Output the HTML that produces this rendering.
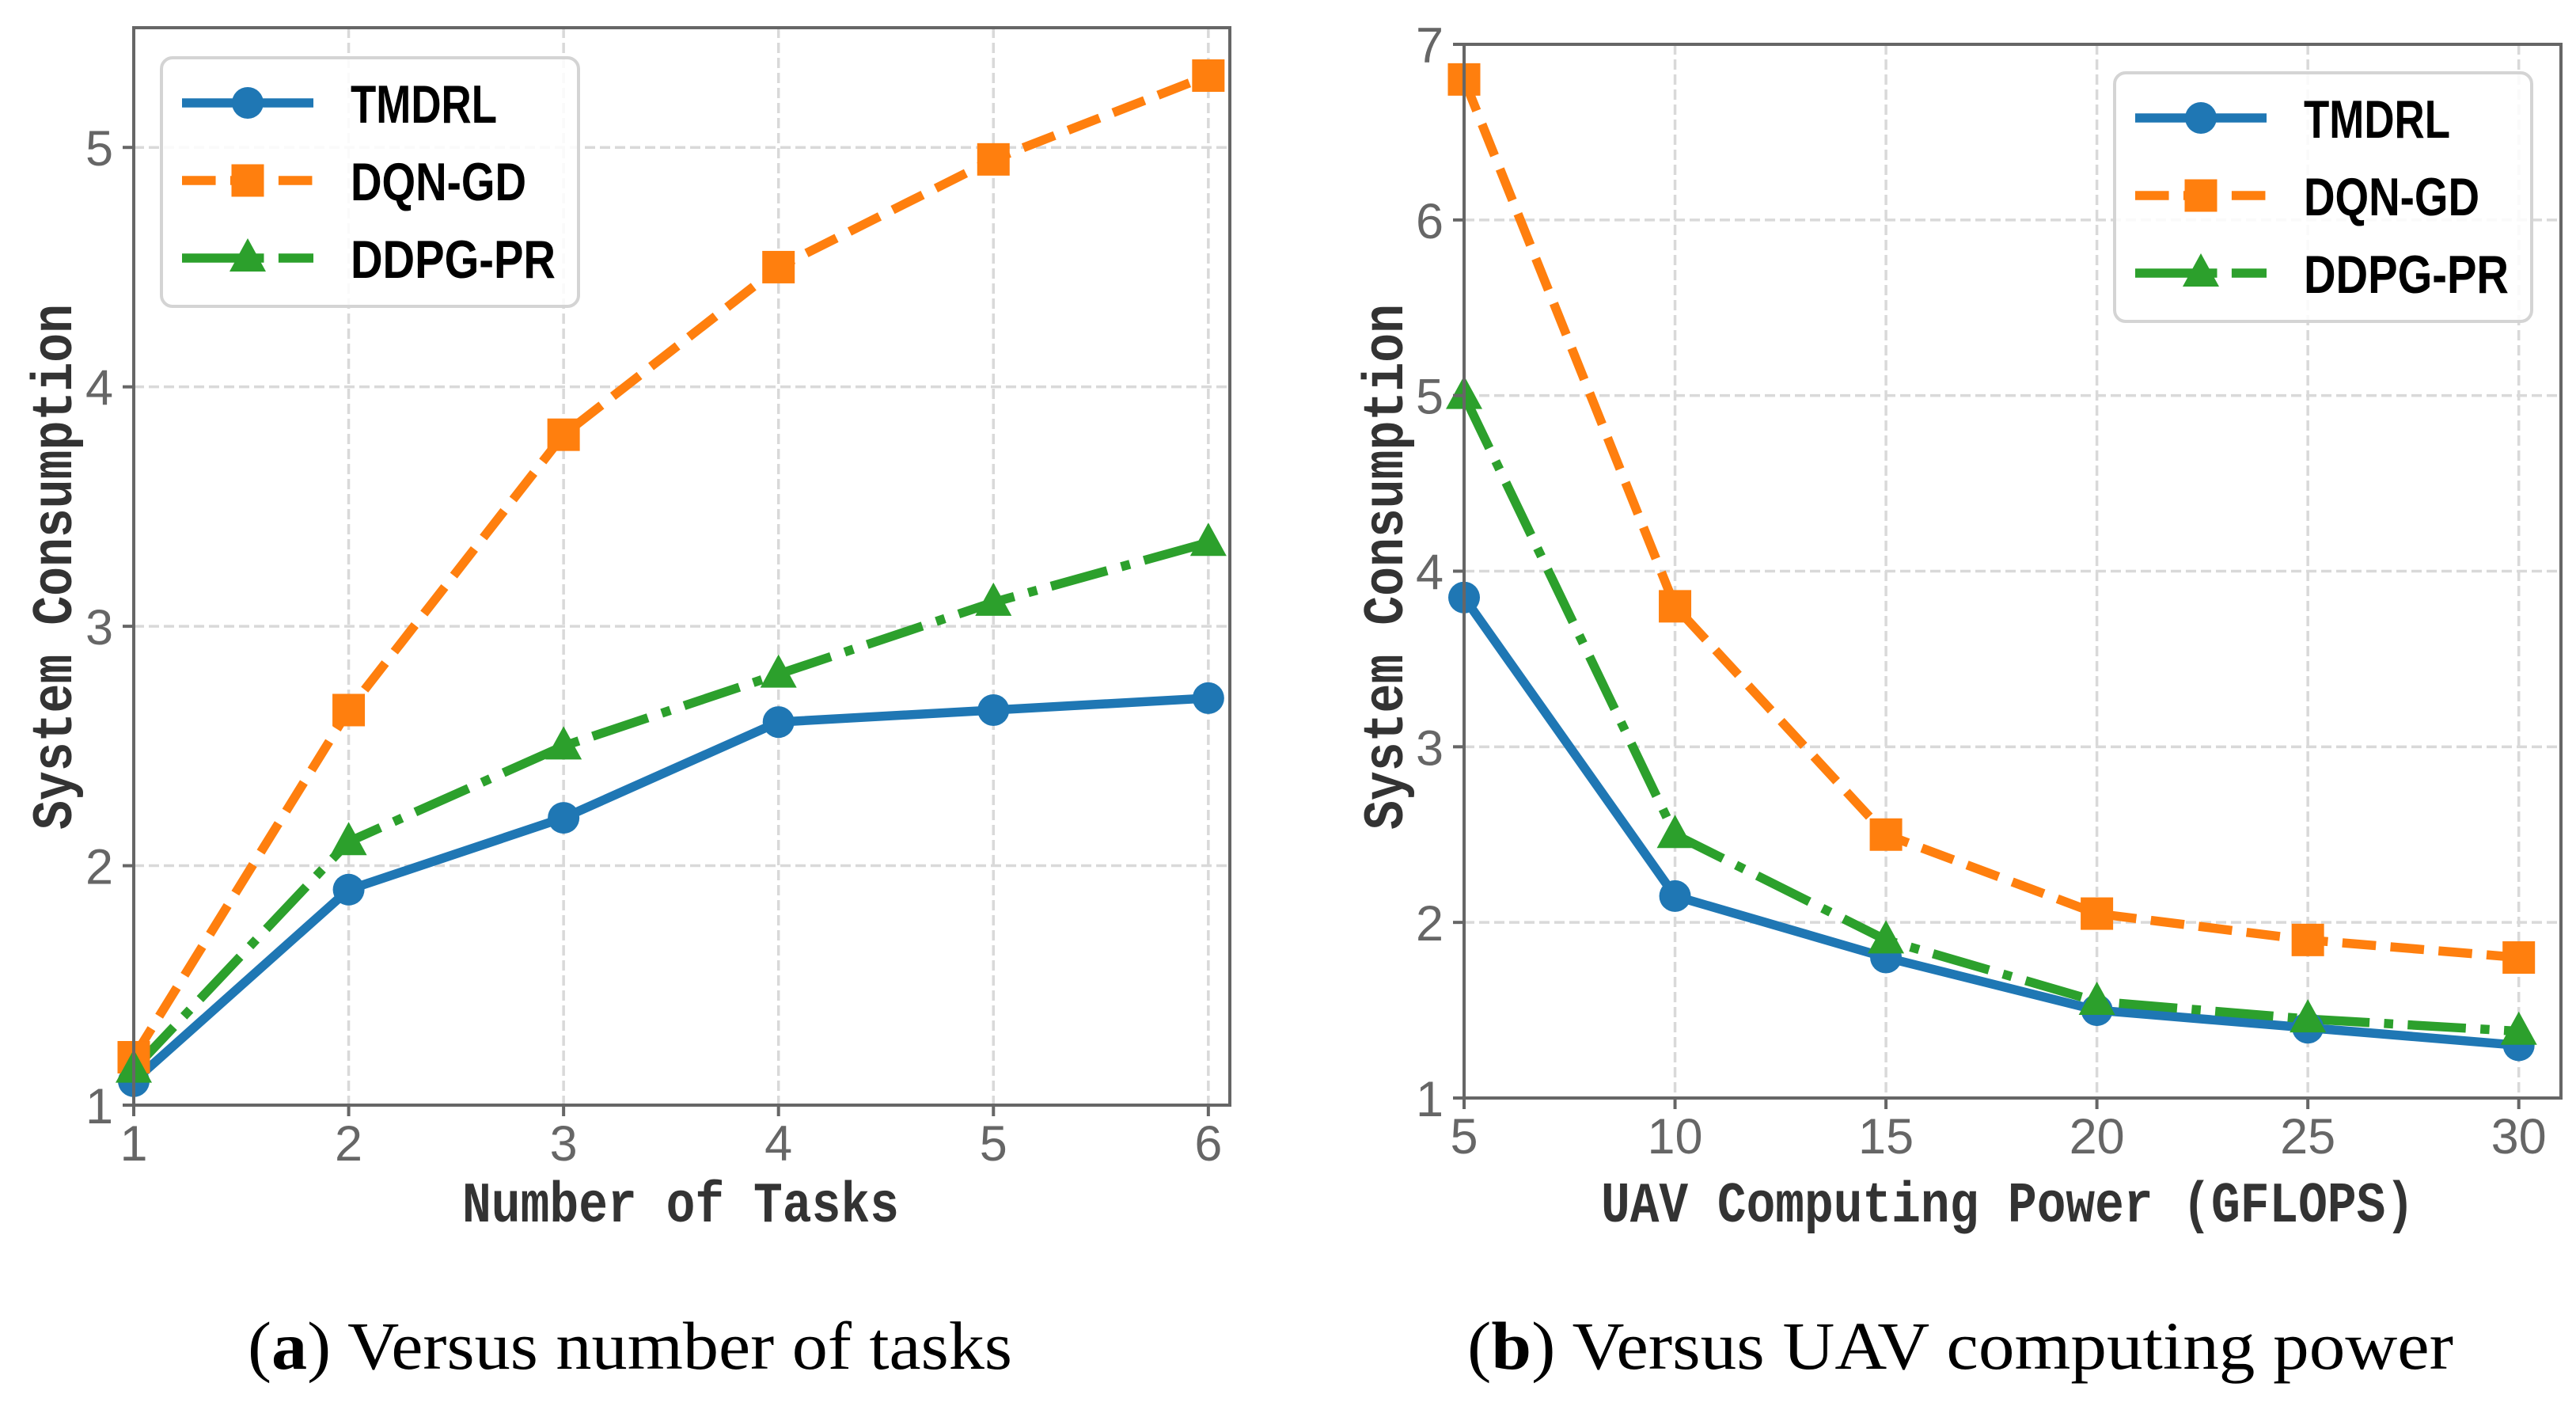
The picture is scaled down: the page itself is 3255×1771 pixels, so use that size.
<!DOCTYPE html>
<html><head><meta charset="utf-8"><style>
html,body{margin:0;padding:0;background:#fff;}
svg{display:block;}
</style></head><body>
<svg id="fig" xmlns="http://www.w3.org/2000/svg" width="3255" height="1771" viewBox="0 0 3255 1771">
<rect x="0" y="0" width="3255" height="1771" fill="#fff"/>
</svg>
<script>
// Panel (a) data
const tasksX = [1, 2, 3, 4, 5, 6];
const tasksTMDRL = [1.1, 1.9, 2.2, 2.6, 2.65, 2.7];
const tasksDQN = [1.2, 2.65, 3.8, 4.5, 4.95, 5.3];
const tasksDDPG = [1.15, 2.1, 2.5, 2.8, 3.1, 3.35];
const tasksXTicks = [1, 2, 3, 4, 5, 6];
const tasksYTicks = [1, 2, 3, 4, 5];
// Panel (b) data
const powerX = [5, 10, 15, 20, 25, 30];
const powerTMDRL = [3.85, 2.15, 1.8, 1.5, 1.4, 1.3];
const powerDQN = [6.8, 3.8, 2.5, 2.05, 1.9, 1.8];
const powerDDPG = [5.0, 2.5, 1.9, 1.55, 1.45, 1.38];
const powerXTicks = [5, 10, 15, 20, 25, 30];
const powerYTicks = [1, 2, 3, 4, 5, 6, 7];
const seriesNames = ["TMDRL", "DQN-GD", "DDPG-PR"];

const NS = "http://www.w3.org/2000/svg";
const svg = document.getElementById("fig");
function mk(tag, attrs, parent) {
  const e = document.createElementNS(NS, tag);
  for (const k in attrs) e.setAttribute(k, attrs[k]);
  (parent || svg).appendChild(e);
  return e;
}
const COLORS = ["#1f77b4", "#ff7f0e", "#2ca02c"];
const LW = 11.5;
const DASH = ["none", (3.7*LW)+" "+(1.6*LW), (6.4*LW)+" "+(1.6*LW)+" "+(1*LW)+" "+(1.6*LW)];

function marker(g, kind, cx, cy, color, name) {
  let m;
  if (kind === 0) m = mk("circle", {cx: cx, cy: cy, r: 20, fill: color}, g);
  else if (kind === 1) m = mk("rect", {x: cx-20.5, y: cy-20.5, width: 41, height: 41, fill: color}, g);
  else m = mk("polygon", {points: (cx)+","+(cy-25)+" "+(cx-23)+","+(cy+17)+" "+(cx+23)+","+(cy+17), fill: color}, g);
  
  
}

function panel(cfg) {
  const g = mk("g", {});
  
  
  const sx = v => cfg.L + (v - cfg.x0) / (cfg.x1 - cfg.x0) * (cfg.R - cfg.L);
  const sy = v => cfg.B - (v - cfg.y0) / (cfg.y1 - cfg.y0) * (cfg.B - cfg.T);
  cfg.xt.forEach(t => {
    const l = mk("line", {x1: sx(t), x2: sx(t), y1: cfg.T, y2: cfg.B, stroke: "#d9d9d9", "stroke-width": 3.5, "stroke-dasharray": "13 6"}, g);
    
    
  });
  cfg.yt.forEach(t => {
    const l = mk("line", {x1: cfg.L, x2: cfg.R, y1: sy(t), y2: sy(t), stroke: "#d9d9d9", "stroke-width": 3.5, "stroke-dasharray": "13 6"}, g);
    
    
  });
  cfg.series.forEach((ys, i) => {
    const sg = mk("g", {}, g);
    
    
    const pts = cfg.xs.map((x, j) => sx(x) + "," + sy(ys[j])).join(" ");
    const pl = mk("polyline", {points: pts, fill: "none", stroke: COLORS[i], "stroke-width": LW, "stroke-dasharray": DASH[i], "stroke-linejoin": "round"}, sg);
    
    
  });
  cfg.series.forEach((ys, i) => {
    cfg.xs.forEach((x, j) => marker(g, i, sx(x), sy(ys[j]), COLORS[i], seriesNames[i].toLowerCase() + '-marker'));
  });
  const fr = mk("rect", {x: cfg.L, y: cfg.T, width: cfg.R - cfg.L, height: cfg.B - cfg.T, fill: "none", stroke: "#666", "stroke-width": 4}, g);
  
  
  cfg.xt.forEach(t => {
    const tk = mk("line", {x1: sx(t), x2: sx(t), y1: cfg.B, y2: cfg.B + 14, stroke: "#666", "stroke-width": 4}, g);
    
    
    const tx = mk("text", {x: sx(t), y: cfg.B + 70, "text-anchor": "middle", "font-family": "Liberation Sans, sans-serif", "font-size": 63, fill: "#666"}, g);
    tx.textContent = t;
    
    
  });
  cfg.yt.forEach(t => {
    const tk = mk("line", {x1: cfg.L - 14, x2: cfg.L, y1: sy(t), y2: sy(t), stroke: "#666", "stroke-width": 4}, g);
    
    
    const tx = mk("text", {x: cfg.L - 26, y: sy(t) + 23, "text-anchor": "end", "font-family": "Liberation Sans, sans-serif", "font-size": 63, fill: "#666"}, g);
    tx.textContent = t;
    
    
  });
  const xl = mk("text", {x: cfg.xlx, y: 1543, "text-anchor": "middle", "font-family": "Liberation Mono, monospace", "font-size": 72, "font-weight": "bold", fill: "#333", textLength: cfg.xlw, lengthAdjust: "spacingAndGlyphs"}, g);
  xl.textContent = cfg.xlabel;
  
  
  const yl = mk("text", {x: 0, y: 0, "text-anchor": "middle", "font-family": "Liberation Mono, monospace", "font-size": 72, "font-weight": "bold", fill: "#333", textLength: 664, lengthAdjust: "spacingAndGlyphs", transform: "translate(" + cfg.ylx + ",716) rotate(-90)"}, g);
  yl.textContent = "System Consumption";
  
  
  const lg = mk("g", {}, g);
  
  
  mk("rect", {x: cfg.lgx, y: cfg.lgy, width: 527, height: 314, rx: 14, fill: "#fff", "fill-opacity": 0.85, stroke: "#d4d4d4", "stroke-width": 4}, lg);
  seriesNames.forEach((n, i) => {
    const ey = cfg.lgy + 57 + i * 98;
    const hx = cfg.lgx + 26;
    const e = mk("g", {}, lg);
    
    
    mk("line", {x1: hx, x2: hx + 166, y1: ey, y2: ey, stroke: COLORS[i], "stroke-width": LW, "stroke-dasharray": DASH[i]}, e);
    marker(e, i, hx + 83, ey, COLORS[i], 'legend-marker');
    const t = mk("text", {x: cfg.lgx + 239, y: ey + 25, "font-family": "Liberation Sans, sans-serif", "font-size": 68, "font-weight": "bold", fill: "#000", textLength: n.length * 37, lengthAdjust: "spacingAndGlyphs"}, e);
    t.textContent = n;
    
    
  });
  const cp = mk("text", {x: cfg.cpx, y: 1729, "font-family": "Liberation Serif, serif", "font-size": 86, fill: "#000", textLength: cfg.cpw, lengthAdjust: "spacingAndGlyphs"}, g);
  
  
  cp.appendChild(document.createTextNode("("));
  const b = mk("tspan", {"font-weight": "bold"}, cp);
  b.textContent = cfg.letter;
  cp.appendChild(document.createTextNode(") " + cfg.caption));
}

panel({id: "tasks", L: 169, R: 1554, T: 35, B: 1396, x0: 1, x1: 6.1, y0: 1, y1: 5.5,
  xs: tasksX, series: [tasksTMDRL, tasksDQN, tasksDDPG], xt: tasksXTicks, yt: tasksYTicks,
  xlabel: "Number of Tasks", xlx: 860, xlw: 552, ylx: 90,
  lgx: 204, lgy: 73, cpx: 313, cpw: 966, letter: "a", caption: "Versus number of tasks"});
panel({id: "power", L: 1850, R: 3236, T: 56, B: 1387, x0: 5, x1: 31, y0: 1, y1: 7,
  xs: powerX, series: [powerTMDRL, powerDQN, powerDDPG], xt: powerXTicks, yt: powerYTicks,
  xlabel: "UAV Computing Power (GFLOPS)", xlx: 2537, xlw: 1028, ylx: 1772,
  lgx: 2672, lgy: 92, cpx: 1854, cpw: 1246, letter: "b", caption: "Versus UAV computing power"});
</script>
</body></html>
